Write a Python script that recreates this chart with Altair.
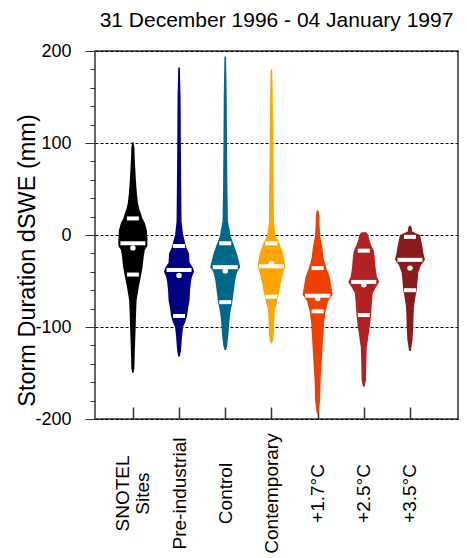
import altair as alt
import pandas as pd

# ---------------- data ----------------
CATEGORIES = ["SNOTEL Sites", "Pre-industrial", "Control", "Contemporary",
              "+1.7°C", "+2.5°C", "+3.5°C"]
POSITIONS = [1, 2, 3, 4, 5, 6, 7]
COLORS = ["#000000", "#000080", "#00688b", "#ffa500", "#ee4000", "#b22222", "#8b1a1a"]

# violin profiles: dSWE value (mm) and relative half-width (density)
SNOTEL_Y = [101, 95, 80, 60, 45, 35, 28, 22, 18, 13, 5, -5, -12, -16, -22, -35, -45, -56, -71, -85, -100, -125, -145, -150]
SNOTEL_W = [0.5, 1.5, 2, 3, 4, 5, 6.5, 8.5, 9.5, 12, 14, 14.5, 14.5, 12, 11, 9.7, 8, 6, 3.7, 3.2, 2.8, 2, 1.5, 0.5]

PREIND_Y = [182, 150, 100, 50, 15, 5, 0, -8, -13, -20, -30, -36, -40, -45, -50, -60, -71, -80, -88, -95, -100, -110, -125, -132]
PREIND_W = [0.8, 1.5, 1.8, 2.2, 2.5, 3.5, 4, 6, 7, 10, 10.5, 14, 15, 13, 12, 11, 10.5, 9, 8, 6, 4, 3, 2, 0.8]

CONTROL_Y = [194, 150, 100, 50, 15, 5, 0, -9, -15, -20, -30, -35, -40, -49, -63, -74, -85, -95, -107, -120, -125]
CONTROL_W = [0.8, 1.5, 1.8, 2.2, 2.7, 4.5, 5, 8, 10, 11.7, 14, 15, 12, 10, 8.3, 7, 5, 4, 3.3, 2, 0.8]

CONTEMP_Y = [180, 150, 100, 50, 15, 5, 0, -9, -15, -20, -28, -34, -40, -49, -60, -67, -75, -82, -95, -107, -115, -118]
CONTEMP_W = [0.8, 1.3, 1.7, 2.2, 2.5, 3.5, 4, 8, 10, 11.7, 13, 14, 12, 10, 8, 6.7, 5, 3.3, 2.8, 2.5, 1.5, 0.5]

P17_Y = [27, 20, 10, 0, -13, -25, -36, -45, -55, -65, -72, -83, -95, -103, -128, -158, -180, -194]
P17_W = [0.8, 1.8, 2, 2.5, 4.7, 6, 8.7, 12, 13.5, 15, 10.5, 8, 6.5, 6, 4.7, 3, 2.5, 0.8]

P25_Y = [3, 0, -5, -10, -17, -25, -35, -45, -51, -57, -63, -75, -87, -100, -107, -115, -122, -140, -158, -165]
P25_W = [2.5, 4.5, 5.5, 7, 10, 11, 11.7, 13, 15.5, 12, 9, 8, 7.3, 6, 5, 4, 3, 2.5, 2.2, 0.8]

P35_Y = [10, 8, 4, 2, 0, -5, -13, -20, -27, -33, -41, -50, -60, -70, -78, -90, -100, -115, -126]
P35_W = [0.8, 1.8, 2, 6, 10, 11, 12.5, 13.5, 15, 11, 8.3, 7.5, 6.7, 5, 4, 3.5, 3.3, 2.5, 0.8]

PROFILES_Y = [SNOTEL_Y, PREIND_Y, CONTROL_Y, CONTEMP_Y, P17_Y, P25_Y, P35_Y]
PROFILES_W = [SNOTEL_W, PREIND_W, CONTROL_W, CONTEMP_W, P17_W, P25_W, P35_W]

Q3 = [18, -12, -9, -9, -36, -17, -2]
MEDIAN = [-9, -38, -35, -34, -66, -51, -27]
Q1 = [-43, -88, -73, -67, -83, -87, -60]
MEAN = [-14, -44, -39, -31, -69, -54, -36]

Y_MAJOR = [-200, -100, 0, 100, 200]
Y_MINOR = list(range(-200, 201, 20))

# ---------------- layout ----------------
W, H = 363, 368
XDOM = [0.18, 8.04]
YDOM = [-200, 200]
unit = W / (XDOM[1] - XDOM[0])  # pixels per x unit
FONT = "Liberation Sans"

rows = []
for cat, pos, ys, ws in zip(CATEGORIES, POSITIONS, PROFILES_Y, PROFILES_W):
    for y, w in zip(ys, ws):
        rows.append({"cat": cat, "pos": pos, "val": y,
                     "lo": pos - w / unit, "hi": pos + w / unit})
violin_df = pd.DataFrame(rows)

stats_df = pd.DataFrame({"cat": CATEGORIES, "pos": POSITIONS, "q1": Q1, "q3": Q3,
                         "median": MEDIAN, "mean": MEAN})

xscale = alt.Scale(domain=XDOM, nice=False, zero=False)
yscale = alt.Scale(domain=YDOM, nice=False, zero=False)
cscale = alt.Scale(domain=CATEGORIES, range=COLORS)

label_expr = ("datum.value == 1 ? ['SNOTEL', 'Sites'] : datum.value == 2 ? 'Pre-industrial' : "
              "datum.value == 3 ? 'Control' : datum.value == 4 ? 'Contemporary' : "
              "datum.value == 5 ? '+1.7°C' : datum.value == 6 ? '+2.5°C' : '+3.5°C'")

violins = alt.Chart(violin_df).mark_area(orient="horizontal", interpolate="linear", opacity=1).encode(
    y=alt.Y("val:Q", scale=yscale, axis=alt.Axis(
        orient="left", values=Y_MAJOR, labelExpr="'' + datum.value",
        grid=True, gridDash=[3, 2], gridColor="black", gridWidth=1,
        domain=False, ticks=True, tickSize=10, tickColor="#333", tickWidth=1,
        labelFontSize=18, labelFont=FONT, labelColor="black", labelPadding=14,
        labelFlush=False, labelOverlap=False,
        title="Storm Duration dSWE (mm)", titleFont=FONT, titleFontSize=23.5,
        titleFontWeight="normal", titleColor="black", titleAngle=270,
        titleAlign="center", titleBaseline="middle", titleX=-68, titleY=209)),
    x=alt.X("lo:Q", scale=xscale, stack=None, axis=alt.Axis(
        orient="bottom", values=POSITIONS, labelExpr=label_expr,
        ticks=False, domain=False, grid=False, title=None,
        labelAngle=270, labelAlign="center", labelBaseline="middle",
        labelPadding=74, labelFontSize=19, labelFont=FONT, labelColor="black",
        labelLineHeight=20, labelFlush=False, labelOverlap=False,
        labelOffset={"condition": {"test": "datum.value == 1", "value": -10}, "value": 0})),
    x2="hi:Q",
    color=alt.Color("cat:N", scale=cscale, legend=None),
    detail="cat:N",
)

quartiles = alt.Chart(stats_df).transform_fold(["q1", "q3"], as_=["stat", "v"]).mark_tick(
    orient="horizontal", size=12, thickness=4, color="white", opacity=1
).encode(
    y=alt.Y("v:Q", scale=yscale, axis=alt.Axis(
        orient="left", values=Y_MINOR, labels=False, domain=False, grid=False,
        ticks=True, tickSize=5, tickColor="#333", tickWidth=1, title=None)),
    x=alt.X("pos:Q", scale=xscale, axis=alt.Axis(
        orient="bottom", values=POSITIONS, labels=False, domain=False, grid=False,
        ticks=True, tickSize=12, tickColor="#333", tickWidth=1.5, offset=-12, title=None)),
)

medians = alt.Chart(stats_df).mark_tick(
    orient="horizontal", size=25, thickness=4, color="white", opacity=1
).encode(
    y=alt.Y("median:Q", scale=yscale, axis=None),
    x=alt.X("pos:Q", scale=xscale, axis=None),
)

means = alt.Chart(stats_df).mark_circle(size=30, color="white", opacity=1).encode(
    y=alt.Y("mean:Q", scale=yscale, axis=None),
    x=alt.X("pos:Q", scale=xscale, axis=None),
)

chart = alt.layer(violins, quartiles, medians, means).resolve_axis(
    x="independent", y="independent"
).properties(
    width=W, height=H,
    title=alt.TitleParams("31 December 1996 - 04 January 1997", fontSize=21, font=FONT,
                          fontWeight="normal", color="black", anchor="middle",
                          baseline="alphabetic", offset=-6),
    autosize=alt.AutoSizeParams(type="none"),
    padding={"left": 87, "top": 43, "right": 1, "bottom": 140},
).configure_view(stroke="#333", strokeWidth=1.5)

chart.save("out.html", embed_options={"renderer": "svg", "actions": False})
